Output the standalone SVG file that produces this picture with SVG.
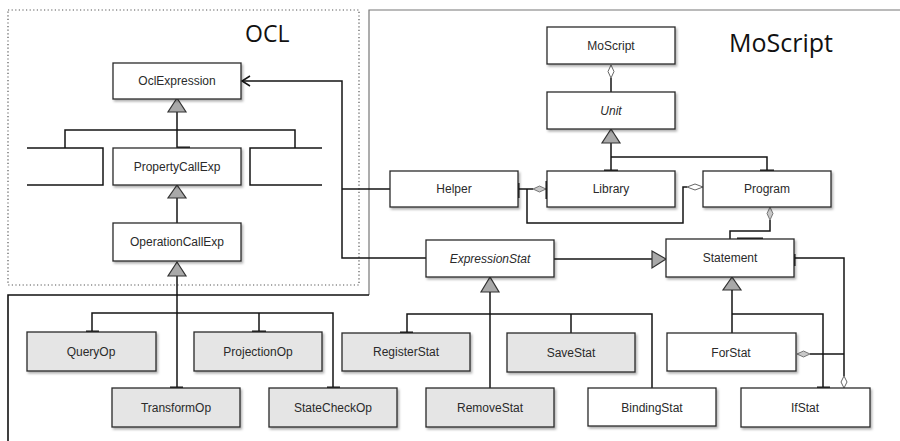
<svg xmlns="http://www.w3.org/2000/svg" width="900" height="441" viewBox="0 0 900 441">
  <defs>
    <filter id="shadow" x="-10%" y="-20%" width="130%" height="160%">
      <feDropShadow dx="1.5" dy="2" stdDeviation="1.3" flood-color="#000" flood-opacity="0.3"/>
    </filter>
    <style>
      .box { stroke: #2a2a2a; stroke-width: 1.3; filter: url(#shadow); }
      .plain { fill: #ffffff; }
      .shade { fill: #e5e5e5; }
      .lbl { font-family: "Liberation Sans", Arial, sans-serif; font-size: 12px; fill: #2a2a2a; text-anchor: middle; }
      .it { font-style: italic; }
      .title { font-family: "Open Sans", "Liberation Sans", sans-serif; fill: #111; }
      .wire { fill: none; stroke: #151515; stroke-width: 1.5; }
      .port { fill: none; stroke: #111; stroke-width: 3; }
      .gen { fill: #a9a9a9; stroke: #333; stroke-width: 1.2; }
      .agg { fill: #ffffff; stroke: #666; stroke-width: 1; }
      .aggg { fill: #c8c8c8; stroke: #777; stroke-width: 1; }
    </style>
  </defs>

  <!-- package frames -->
  <g id="frames">
    <rect x="8" y="10" width="351" height="275" fill="none" stroke="#555" stroke-width="1.2" stroke-dasharray="1.2 2.4"/>
    <path d="M905 10 H369 V295" fill="none" stroke="#777" stroke-width="1.2"/>
    <path d="M369 295 H8 V441" fill="none" stroke="#111" stroke-width="1.6"/>
    <text class="title" x="245" y="42" font-size="23">OCL</text>
    <text class="title" x="729" y="52" font-size="25">MoScript</text>
  </g>

  <!-- connectors -->
  <g id="connectors">
    <!-- OclExpression hierarchy -->
    <path class="wire" d="M177 112 V148 M65 148 V130 H295 V148"/>
    <path class="wire" d="M27 148 H103 V185 H27 M322 148 H250 V185 H322"/>
    <path class="wire" d="M177 198 V223"/>
    <path class="wire" d="M177 276 V388 M92 332 V313 H333 V388 M259 313 V332"/>
    <polygon class="gen" points="177,98 168,112 186,112"/>
    <polygon class="gen" points="177,185 168,198 186,198"/>
    <polygon class="gen" points="177,262 168,276 186,276"/>

    <!-- references into OclExpression -->
    <path class="wire" d="M243 81 H342 V258 H426 M342 189 H390"/>
    <path class="wire" stroke-width="2.2" d="M250 76 L242 81 L250 86"/>

    <!-- MoScript / Unit -->
    <path class="wire" d="M611 78 V92"/>
    <polygon class="agg" points="611,65 614,71.5 611,78 608,71.5"/>
    <path class="wire" d="M611 143 V171 M611 157 H767 V171"/>
    <polygon class="gen" points="611,129 602,143 620,143"/>

    <!-- Helper aggregations -->
    <path class="wire" d="M518 189 H533 M527 189 V223 H683 V187 H687"/>
    <polygon class="aggg" points="533,189 539.5,186 546,189 539.5,192"/>
    <polygon class="agg" points="687,187 695,184 703,187 695,190"/>

    <!-- Program to Statement -->
    <polygon class="aggg" points="770,207 773,213.5 770,220 767,213.5"/>
    <path class="wire" d="M770 220 V231 H730 V239"/>

    <!-- ExpressionStat to Statement -->
    <path class="wire" d="M554 259 H652"/>
    <polygon class="gen" points="666,259 652,251 652,268"/>

    <!-- ExpressionStat hierarchy -->
    <polygon class="gen" points="490,277 481,292 499,292"/>
    <path class="wire" stroke-width="2" d="M490 292 V388"/>
    <path class="wire" d="M407 333 V314 H652 V388 M571 314 V333"/>

    <!-- Statement hierarchy -->
    <polygon class="gen" points="732,277 723,290 741,290"/>
    <path class="wire" d="M732 290 V333 M732 314 H823 V388"/>

    <!-- Statement containment in ForStat / IfStat -->
    <path class="wire" d="M794 258 H844 V376 M810 354 H844"/>
    <polygon class="aggg" points="797,354 803.5,351 810,354 803.5,357"/>
    <polygon class="agg" points="844,376 847,382 844,388 841,382"/>

    <!-- attachment marks -->
    <path class="port" d="M177 148 H190 M86 332 H99 M252 332 H266 M170 388 H183 M327 388 H340 M400 333 H413 M604 171 H618 M760 171 H774 M737 239 H763 M817 388 H830"/>
    <path class="port" d="M518 183 V198 M547 181 V199 M794 254 V266"/>
  </g>

  <!-- OCL classes -->
  <g id="OclExpression"><rect class="box plain" x="113" y="63" width="128" height="36"/><text class="lbl" x="177" y="85">OclExpression</text></g>
  <g id="PropertyCallExp"><rect class="box plain" x="113" y="148" width="128" height="37"/><text class="lbl" x="177" y="171">PropertyCallExp</text></g>
  <g id="OperationCallExp"><rect class="box plain" x="113" y="223" width="128" height="38"/><text class="lbl" x="177" y="246">OperationCallExp</text></g>

  <!-- MoScript classes -->
  <g id="MoScript"><rect class="box plain" x="547" y="27" width="128" height="37"/><text class="lbl" x="611" y="50">MoScript</text></g>
  <g id="Unit"><rect class="box plain" x="547" y="92" width="128" height="37"/><text class="lbl it" x="611" y="115">Unit</text></g>
  <g id="Helper"><rect class="box plain" x="390" y="171" width="128" height="36"/><text class="lbl" x="454" y="193">Helper</text></g>
  <g id="Library"><rect class="box plain" x="547" y="171" width="128" height="36"/><text class="lbl" x="611" y="193">Library</text></g>
  <g id="Program"><rect class="box plain" x="703" y="171" width="128" height="36"/><text class="lbl" x="767" y="193">Program</text></g>
  <g id="ExpressionStat"><rect class="box plain" x="426" y="240" width="128" height="37"/><text class="lbl it" x="490" y="263">ExpressionStat</text></g>
  <g id="Statement"><rect class="box plain" x="666" y="239" width="128" height="38"/><text class="lbl" x="730" y="262">Statement</text></g>

  <!-- operations and statements -->
  <g id="QueryOp"><rect class="box shade" x="27" y="332" width="129" height="39"/><text class="lbl" x="91" y="356">QueryOp</text></g>
  <g id="ProjectionOp"><rect class="box shade" x="194" y="332" width="128" height="39"/><text class="lbl" x="258" y="356">ProjectionOp</text></g>
  <g id="RegisterStat"><rect class="box shade" x="342" y="333" width="128" height="38"/><text class="lbl" x="406" y="356">RegisterStat</text></g>
  <g id="SaveStat"><rect class="box shade" x="507" y="333" width="128" height="39"/><text class="lbl" x="571" y="357">SaveStat</text></g>
  <g id="ForStat"><rect class="box plain" x="667" y="333" width="129" height="38"/><text class="lbl" x="731" y="357">ForStat</text></g>
  <g id="TransformOp"><rect class="box shade" x="112" y="388" width="128" height="39"/><text class="lbl" x="176" y="412">TransformOp</text></g>
  <g id="StateCheckOp"><rect class="box shade" x="269" y="388" width="128" height="39"/><text class="lbl" x="333" y="412">StateCheckOp</text></g>
  <g id="RemoveStat"><rect class="box shade" x="426" y="388" width="128" height="39"/><text class="lbl" x="490" y="412">RemoveStat</text></g>
  <g id="BindingStat"><rect class="box plain" x="588" y="388" width="128" height="38"/><text class="lbl" x="652" y="412">BindingStat</text></g>
  <g id="IfStat"><rect class="box plain" x="741" y="388" width="129" height="39"/><text class="lbl" x="805" y="412">IfStat</text></g>
</svg>
